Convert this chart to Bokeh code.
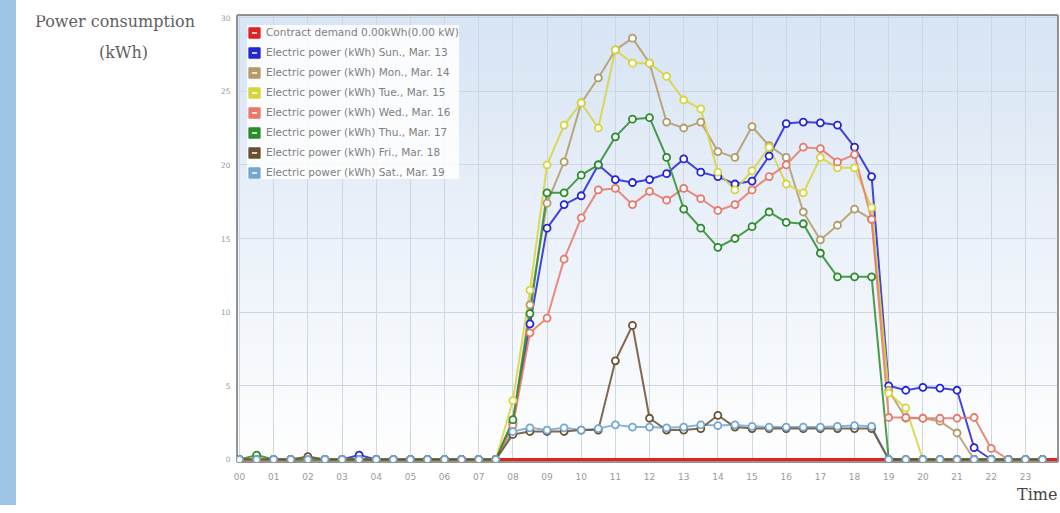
import numpy as np
from bokeh.plotting import figure
from bokeh.models import (Range1d, FixedTicker, Span, Label, Legend, LegendItem, Spacer, Title)
from bokeh.layouts import row
from bokeh.embed import file_html
from bokeh.resources import INLINE

# ---------------- data ----------------
hour_labels = ["00", "01", "02", "03", "04", "05", "06", "07", "08", "09", "10", "11",
               "12", "13", "14", "15", "16", "17", "18", "19", "20", "21", "22", "23"]
hour_ticks = list(range(24))
y_ticks = [0, 5, 10, 15, 20, 25, 30]

# half-hour slots 00:00 ... 23:30
slot_hours = np.arange(48) * 0.5

contract_demand = 0.00

sun = [0, 0, 0, 0, 0, 0, 0, 0.3, 0, 0, 0, 0, 0, 0, 0, 0,
       2.5, 9.2, 15.7, 17.3, 17.9, 20.0, 19.0, 18.8, 19.0, 19.4, 20.4, 19.5,
       19.2, 18.7, 18.9, 20.6, 22.8, 22.9, 22.85, 22.7, 21.2, 19.2,
       5.0, 4.7, 4.9, 4.85, 4.7, 0.8, 0, 0, 0, 0]
mon = [0] * 16 + [
       2.4, 10.5, 17.4, 20.2, 24.2, 25.9, 27.8, 28.6, 26.9, 22.9, 22.5, 22.9,
       20.9, 20.5, 22.6, 21.3, 20.5, 16.8, 14.9, 15.9, 17.0, 16.3,
       4.7, 2.8, 2.8, 2.6, 1.8, 0, 0, 0, 0, 0]
tue = [0] * 16 + [
       4.0, 11.5, 20.0, 22.7, 24.2, 22.5, 27.8, 26.9, 26.9, 26.0, 24.4, 23.8,
       19.5, 18.3, 19.6, 21.2, 18.7, 18.1, 20.5, 19.8, 19.8, 17.1,
       4.5, 3.5, 0, 0, 0, 0, 0, 0, 0, 0]
wed = [0] * 16 + [
       2.3, 8.6, 9.6, 13.6, 16.4, 18.3, 18.4, 17.3, 18.2, 17.6, 18.4, 17.7,
       16.9, 17.3, 18.3, 19.2, 20.0, 21.2, 21.1, 20.2, 20.7, 16.3,
       2.85, 2.85, 2.8, 2.8, 2.8, 2.85, 0.75, 0, 0, 0]
thu = [0, 0.3, 0, 0, 0, 0, 0, 0, 0, 0, 0, 0, 0, 0, 0, 0,
       2.7, 9.9, 18.1, 18.1, 19.3, 20.0, 21.9, 23.1, 23.2, 20.5, 17.0, 15.7,
       14.4, 15.0, 15.8, 16.8, 16.1, 16.0, 14.0, 12.4, 12.4, 12.4,
       0, 0, 0, 0, 0, 0, 0, 0, 0, 0]
fri = [0, 0, 0, 0, 0.2, 0, 0, 0, 0, 0, 0, 0, 0, 0, 0, 0,
       1.7, 1.9, 1.9, 1.9, 2.0, 2.0, 6.7, 9.1, 2.8, 2.0, 2.0, 2.1,
       3.0, 2.2, 2.1, 2.1, 2.1, 2.1, 2.1, 2.1, 2.1, 2.1,
       0, 0, 0, 0, 0, 0, 0, 0, 0, 0]
sat = [0] * 16 + [
       1.9, 2.15, 2.0, 2.15, 2.0, 2.1, 2.35, 2.2, 2.2, 2.15, 2.2, 2.35,
       2.3, 2.35, 2.25, 2.2, 2.2, 2.2, 2.2, 2.25, 2.3, 2.25,
       0, 0, 0, 0, 0, 0, 0, 0, 0, 0]

contract_label = "Contract demand 0.00kWh(0.00 kW)"
series_labels = ["Electric power (kWh) Sun., Mar. 13",
                 "Electric power (kWh) Mon., Mar. 14",
                 "Electric power (kWh) Tue., Mar. 15",
                 "Electric power (kWh) Wed., Mar. 16",
                 "Electric power (kWh) Thu., Mar. 17",
                 "Electric power (kWh) Fri., Mar. 18",
                 "Electric power (kWh) Sat., Mar. 19"]
series_values = [sun, mon, tue, wed, thu, fri, sat]
series_colors = ["#2424d8", "#b39a66", "#d8d43c", "#e8786a", "#2a8c2a", "#6b5030", "#74a6d4"]
contract_color = "#e02222"

y_title_lines = ["Power consumption", "(kWh)"]
x_title = "Time"

# ---------------- layout sizes ----------------
H = 505
STRIP_W = 16
TITLE_W = 190
W = 1060 - STRIP_W - TITLE_W
FRAME_TOP, FRAME_BOTTOM = 15, 44   # borders of the main plot frame

# ---------------- y-axis title panel ----------------
# (the row aligns this panel's frame with the main frame: page y 15 .. 461)
tp = figure(width=TITLE_W, height=H, output_backend="svg", toolbar_location=None,
            x_range=Range1d(0, 1), y_range=Range1d(0, 1), x_axis_type=None, y_axis_type=None,
            min_border=0, min_border_top=FRAME_TOP, min_border_bottom=FRAME_BOTTOM,
            background_fill_color="white", border_fill_color="white")
tp.outline_line_color = None
tp.title = None
frame_h = H - FRAME_TOP - FRAME_BOTTOM
tp.add_layout(Label(x=98.5, y=frame_h - (21 - FRAME_TOP), x_units="screen", y_units="screen",
                    text=y_title_lines[0], text_font="DejaVu Serif", text_font_size="16px",
                    text_color="#606060", text_align="center", text_baseline="middle"))
tp.add_layout(Label(x=107, y=frame_h - (52 - FRAME_TOP), x_units="screen", y_units="screen",
                    text=y_title_lines[1], text_font="DejaVu Serif", text_font_size="16px",
                    text_color="#606060", text_align="center", text_baseline="middle"))

# ---------------- main figure ----------------
x_start, x_end = -0.06, 23.94
y_start, y_end = -0.136, 30.136

p = figure(width=W, height=H, output_backend="svg", toolbar_location=None,
           x_range=Range1d(x_start, x_end), y_range=Range1d(y_start, y_end),
           min_border_left=31, min_border_right=3, min_border_top=FRAME_TOP,
           min_border_bottom=FRAME_BOTTOM,
           background_fill_color="white", border_fill_color="white")
p.title = None

# gradient background of the plot area
n = 64
top = np.array([0xd8, 0xe5, 0xf5], dtype=float)
bot = np.array([0xff, 0xff, 0xff], dtype=float)
img = np.zeros((n, 1), dtype=np.uint32)
view = img.view(dtype=np.uint8).reshape((n, 1, 4))
for i in range(n):
    f = i / (n - 1)
    c = bot + (top - bot) * f
    view[i, 0, 0] = int(c[0]); view[i, 0, 1] = int(c[1]); view[i, 0, 2] = int(c[2]); view[i, 0, 3] = 255
p.image_rgba(image=[img], x=x_start, y=y_start, dw=x_end - x_start, dh=y_end - y_start, level="image")

p.outline_line_color = "#707070"
p.outline_line_width = 2.5

p.xgrid.ticker = FixedTicker(ticks=hour_ticks)
p.ygrid.ticker = FixedTicker(ticks=y_ticks)
for g in (p.xgrid, p.ygrid):
    g.grid_line_color = "#cdd7e3"
    g.grid_line_width = 1

p.xaxis.ticker = FixedTicker(ticks=hour_ticks)
p.xaxis.major_label_overrides = {h: lab for h, lab in zip(hour_ticks, hour_labels)}
p.yaxis.ticker = FixedTicker(ticks=y_ticks)
for ax in (p.xaxis, p.yaxis):
    ax.axis_line_color = None
    ax.major_tick_line_color = None
    ax.minor_tick_line_color = None
    ax.major_tick_out = 0
    ax.major_tick_in = 0
    ax.major_label_text_color = "#9a9a9a"
    ax.major_label_text_font = "DejaVu Sans"
p.xaxis.major_label_text_font_size = "9px"
p.xaxis.major_label_standoff = 11
p.yaxis.major_label_text_font_size = "7.5px"
p.yaxis.major_label_standoff = 7

# contract demand line
p.add_layout(Span(location=contract_demand, dimension="width", line_color=contract_color,
                  line_width=3, level="underlay"))

# lines (Sat first so that Fri's dark line lies on top where they coincide)
line_order = [6, 0, 1, 2, 3, 4, 5]
for k in line_order:
    p.line(slot_hours, series_values[k], line_color=series_colors[k], line_width=2, line_alpha=0.85)
for k in range(7):
    p.scatter(slot_hours, series_values[k], marker="circle", size=7, fill_color="white",
              line_color=series_colors[k], line_width=1.8)

# legend (square colour icons; renderers hold a single NaN row only)
def legend_icon(color):
    q = p.quad(left=[np.nan], right=[np.nan], top=[np.nan], bottom=[np.nan],
               fill_color=color, line_color=color)
    d = p.scatter(x=[np.nan], y=[np.nan], marker="dash", line_color="white", line_width=1.5)
    return [q, d]

items = [LegendItem(label=contract_label, renderers=legend_icon(contract_color))]
for lab, col in zip(series_labels, series_colors):
    items.append(LegendItem(label=lab, renderers=legend_icon(col)))

legend = Legend(items=items, location="top_left", margin=10, padding=6, spacing=6,
                glyph_width=14, glyph_height=13, label_height=14, label_standoff=5,
                label_text_font="DejaVu Sans", label_text_font_size="10.5px",
                label_text_color="#808080", background_fill_color="white",
                background_fill_alpha=0.85, border_line_color=None)
p.add_layout(legend, "center")

# x-axis title at the bottom right
p.add_layout(Title(text=x_title, align="right", text_font="DejaVu Serif", text_font_size="16px",
                   text_color="#444444", text_font_style="normal", standoff=0, offset=0), "below")

strip = Spacer(width=STRIP_W, height=H, styles={"background-color": "#9dc3e6"})
layout = row(strip, tp, p)

open("out.html", "w").write(file_html(layout, INLINE))
